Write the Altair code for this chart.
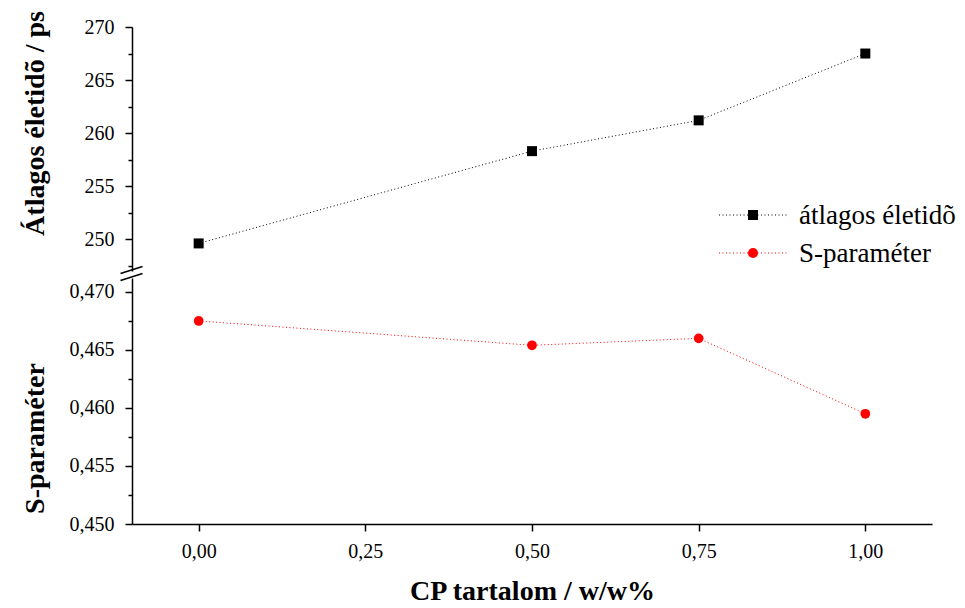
import altair as alt
import pandas as pd

# ---- data ----
cp_content = [0.0, 0.5, 0.75, 1.0]
lifetime_ps = [249.6, 258.3, 261.2, 267.5]
s_parameter = [0.4675, 0.4654, 0.4660, 0.4595]

x_ticks = [0.0, 0.25, 0.5, 0.75, 1.0]
top_ticks = [247.5, 250, 252.5, 255, 257.5, 260, 262.5, 265, 267.5, 270]
bottom_ticks = [0.450, 0.4525, 0.455, 0.4575, 0.460, 0.4625, 0.465, 0.4675, 0.470]

series_labels = ["átlagos életidõ", "S-paraméter"]
series_colors = ["#000000", "#ff0000"]
series_shapes = ["square", "circle"]

FONT = "Liberation Serif"

df_top = pd.DataFrame({"x": cp_content, "v": lifetime_ps})
df_bot = pd.DataFrame({"x": cp_content, "v": s_parameter})
df_leg0 = pd.DataFrame({"label": [series_labels[0]]})
df_leg1 = pd.DataFrame({"label": [series_labels[1]]})

x_scale = alt.Scale(domain=[-0.1, 1.1], nice=False, zero=False)
top_scale = alt.Scale(domain=[247, 270], nice=False, zero=False)
bot_scale = alt.Scale(domain=[0.450, 0.4712], nice=False, zero=False)

common = dict(
    domainColor="black", domainWidth=1.5, tickColor="black", tickWidth=1.5,
    labelColor="black", labelFont=FONT, labelFontSize=20,
    titleFont=FONT, titleFontSize=28, titleFontWeight="bold", titleColor="black",
    grid=False,
)

top_axis = alt.Axis(
    values=top_ticks,
    title="Átlagos életidõ / ps",
    tickSize={"condition": {"test": "datum.value % 5 == 0", "value": 7}, "value": 4},
    labelExpr="datum.value % 5 == 0 ? format(datum.value, 'd') : ''",
    labelPadding=11,
    titleAngle=-90, titleX=-97, titleY=96, titleAlign="center", titleBaseline="middle",
    **common,
)
bot_axis = alt.Axis(
    values=bottom_ticks,
    title="S-paraméter",
    tickSize={"condition": {"test": "round(datum.value * 2000) % 10 == 0", "value": 7}, "value": 4},
    labelExpr="round(datum.value * 2000) % 10 == 0 ? replace(format(datum.value, '.3f'), '.', ',') : ''",
    labelPadding=11,
    titleAngle=-90, titleX=-97, titleY=160, titleAlign="center", titleBaseline="middle",
    **common,
)
x_axis = alt.Axis(
    values=x_ticks,
    title="CP tartalom / w/w%",
    tickSize=7,
    labelExpr="replace(format(datum.value, '.2f'), '.', ',')",
    labelPadding=10, titlePadding=16,
    **common,
)

# ---- top panel ----
top_base = alt.Chart(df_top).encode(
    x=alt.X("x:Q", scale=x_scale, axis=None),
    y=alt.Y("v:Q", scale=top_scale, axis=top_axis),
)
top_line = top_base.mark_line(color=series_colors[0], strokeDash=[1, 2.5], strokeWidth=1)
top_pts = top_base.mark_point(shape=series_shapes[0], filled=True, size=100,
                              color=series_colors[0], opacity=1)

def legend_entry(df, color, shape, yy):
    rule = alt.Chart(df).mark_rule(color=color, strokeDash=[1, 2.5], strokeWidth=1).encode(
        x=alt.value(587), x2=alt.value(656), y=alt.value(yy))
    pt = alt.Chart(df).mark_point(shape=shape, filled=True, size=100, color=color, opacity=1).encode(
        x=alt.value(621), y=alt.value(yy))
    txt = alt.Chart(df).mark_text(align="left", baseline="middle", font=FONT, fontSize=27,
                                  color="black").encode(
        x=alt.value(667), y=alt.value(yy + 1), text="label:N")
    return [rule, pt, txt]

top = alt.layer(
    top_line, top_pts,
    *legend_entry(df_leg0, series_colors[0], series_shapes[0], 188),
    *legend_entry(df_leg1, series_colors[1], series_shapes[1], 226),
).properties(width=800, height=244)

# ---- bottom panel ----
bot_base = alt.Chart(df_bot).encode(
    x=alt.X("x:Q", scale=x_scale, axis=x_axis),
    y=alt.Y("v:Q", scale=bot_scale, axis=bot_axis),
)
bot_line = bot_base.mark_line(color=series_colors[1], strokeDash=[1, 2.5], strokeWidth=1)
bot_pts = bot_base.mark_point(shape=series_shapes[1], filled=True, size=95,
                              color=series_colors[1], opacity=1)

brk1 = alt.Chart(df_leg0).mark_rule(color="black", strokeWidth=1.5).encode(
    x=alt.value(-11.5), x2=alt.value(10.5), y=alt.value(-4.5), y2=alt.value(-11.5))
brk2 = alt.Chart(df_leg0).mark_rule(color="black", strokeWidth=1.5).encode(
    x=alt.value(-11.5), x2=alt.value(10.5), y=alt.value(2.5), y2=alt.value(-4.5))

bottom = alt.layer(bot_line, bot_pts, brk1, brk2).properties(width=800, height=246)

chart = alt.vconcat(top, bottom, spacing=7, bounds="flush").properties(
    padding={"left": 12, "top": 2, "right": 0, "bottom": 2}
).configure(background="white").configure_view(stroke=None)

chart.save("out.html", embed_options={"renderer": "svg", "actions": False})
